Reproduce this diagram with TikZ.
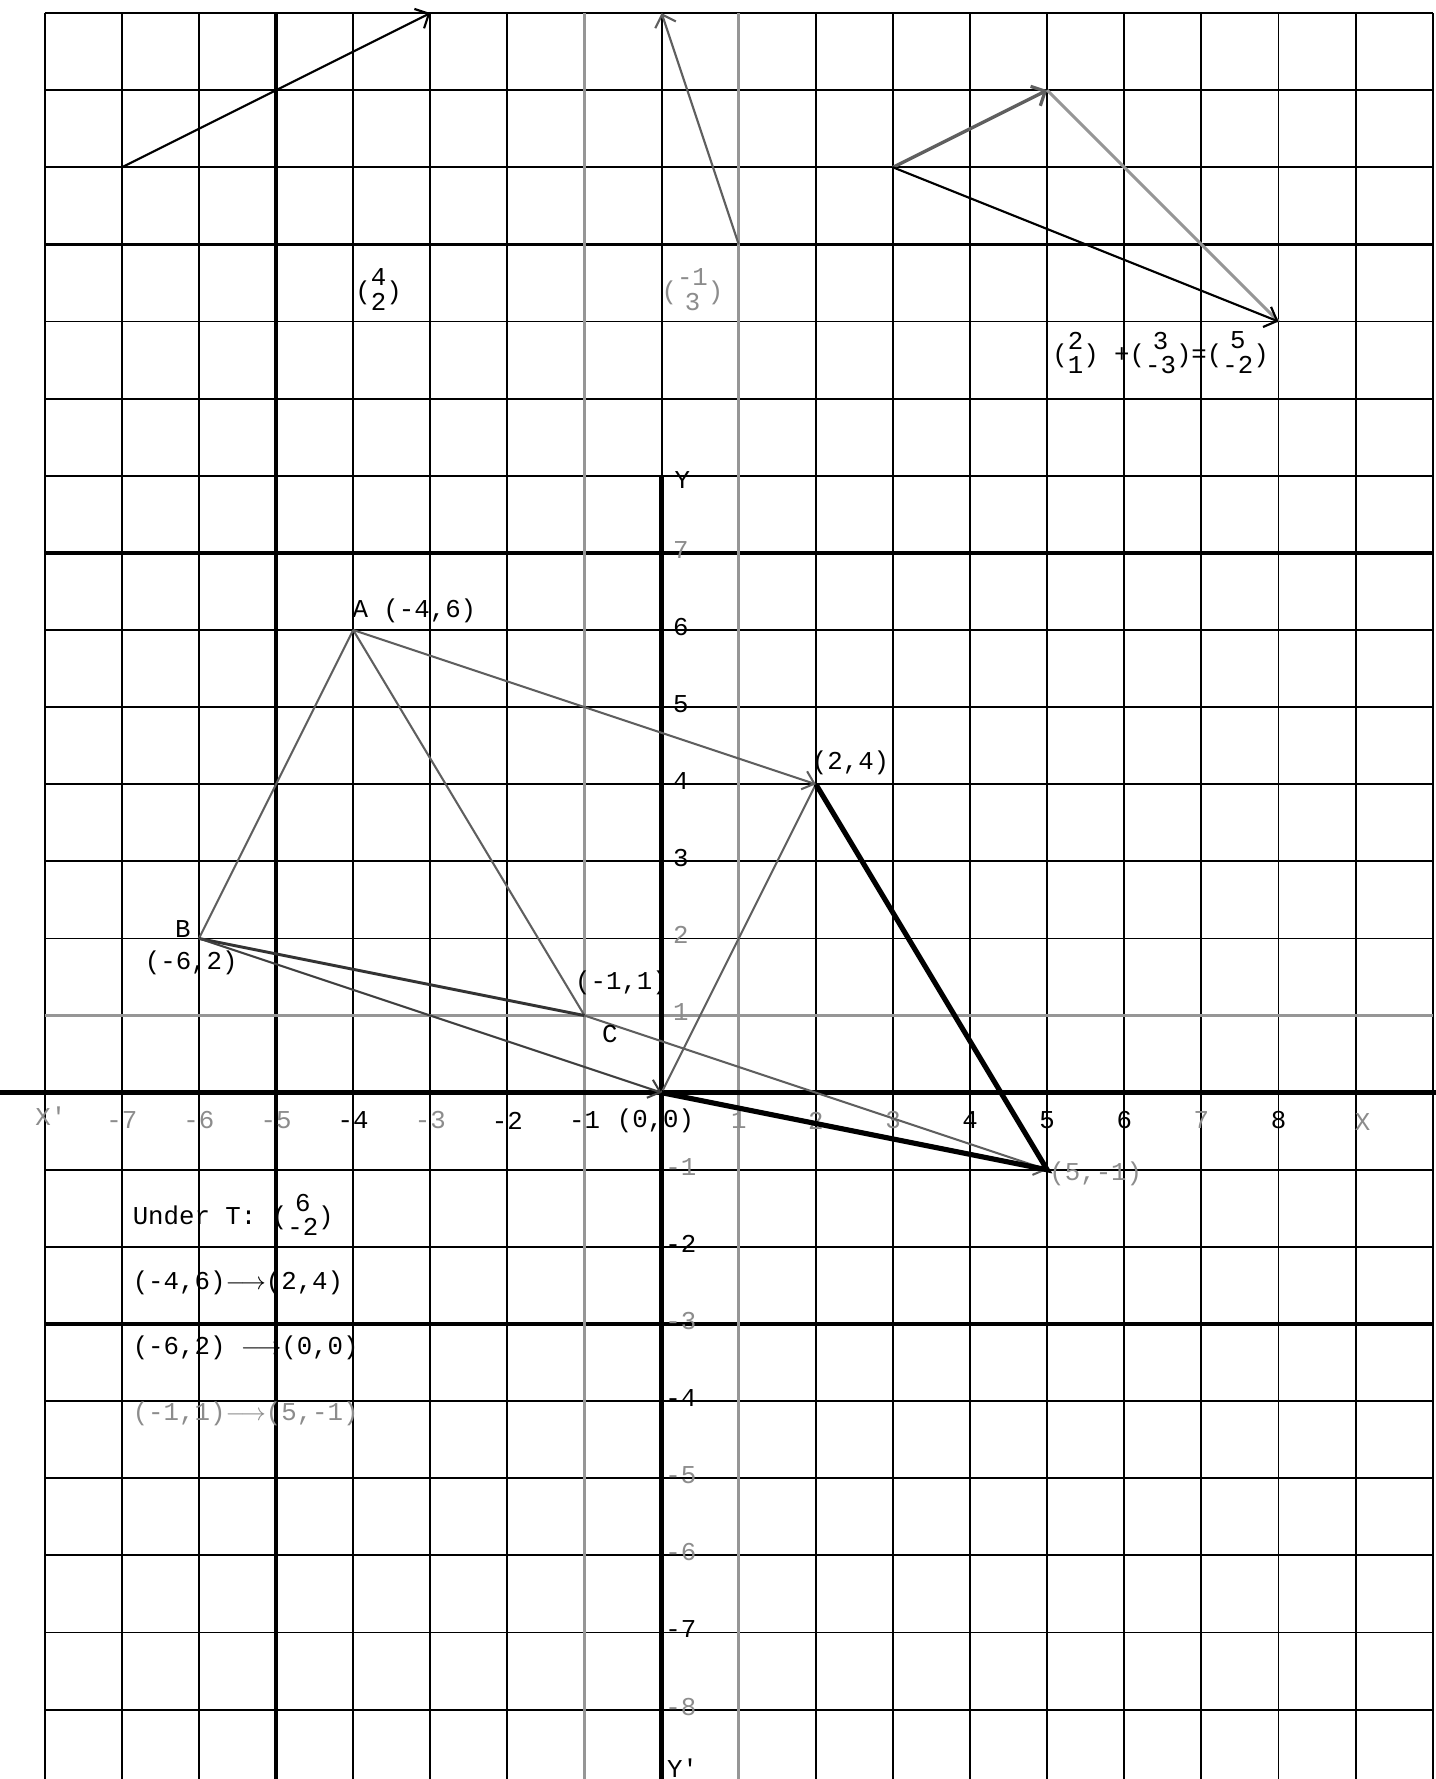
\documentclass[tikz,border=0pt]{standalone}
\usepackage{fontspec}
\newfontfamily\lettering{Liberation Mono}
\usepackage{tikz}
\usetikzlibrary{arrows.meta,positioning,calc}
\definecolor{pgray}{RGB}{140,140,140}
\definecolor{linegray}{RGB}{95,95,95}
\definecolor{fadegray}{RGB}{150,150,150}
\newcommand{\letterfont}{\lettering\fontsize{9.5}{11}\selectfont}
\newcommand{\cvec}[2]{(\begin{tabular}{@{}c@{}}#1\\#2\end{tabular})}
\renewcommand{\arraystretch}{0.8}
\tikzset{
  gridline/.style={draw=black, line width=0.7pt},
  boldgrid/.style={draw=black, line width=1.3pt},
  fadegrid/.style={draw=fadegray, line width=1.1pt},
  axisline/.style={draw=black, line width=1.9pt},
  vecline/.style={draw=#1, line width=0.8pt, -{Straight Barb[length=4pt,width=8pt]}},
  vecline/.default=black,
  shiftline/.style={draw=#1, line width=0.75pt, -{Straight Barb[length=4pt,width=7pt]}},
  shiftline/.default=linegray,
  triside/.style={draw=#1, line width=0.75pt},
  triside/.default=linegray,
  imgside/.style={draw=black, line width=1.9pt},
  lbl/.style={font=\letterfont, text=#1, inner sep=1pt},
  lbl/.default=black,
}
\begin{document}
\begin{tikzpicture}
% page
\useasboundingbox (-8.58,-8.9) rectangle (10.04,14.17);
\fill[white] (-8.58,-8.9) rectangle (10.04,14.17);
% graph paper
\foreach \x in {-8,...,10}
  \draw[gridline] (\x,-8.9) -- (\x,14);
\foreach \y in {-8,...,14}
  \draw[gridline] (-8,\y) -- (10,\y);
\draw[boldgrid] (-5,-8.9) -- (-5,14);
\foreach \y in {11,7,-3}
  \draw[boldgrid] (-8,\y) -- (10,\y);
\foreach \x in {-1,1}
  \draw[fadegrid] (\x,-8.9) -- (\x,14);
\draw[fadegrid] (-8,1) -- (10,1);
% axes
\coordinate (xl) at (-8.58,0);
\coordinate (xr) at (10.04,0);
\coordinate (yt) at (0,8);
\coordinate (yb) at (0,-8.9);
\draw[axisline] (xl) -- (xr);
\draw[axisline] (yt) -- (yb);
\foreach \x/\c in {-7/pgray,-6/pgray,-5/pgray,-4/black,-3/pgray,-2/black,-1/black,
                   1/pgray,2/pgray,3/pgray,4/black,5/black,6/black,7/pgray,8/black}
  \node[lbl=\c] (tx\x) at (\x,-0.36) {\x};
\foreach \y/\c in {7/pgray,6/black,5/black,4/black,3/black,2/pgray,1/pgray,
                   -1/pgray,-2/black,-3/pgray,-4/black,-5/pgray,-6/pgray,-7/black,-8/pgray}
  \node[lbl=\c] (ty\y) at (0.25,{\y+0.04}) {\y};
\node[lbl=pgray] (xneg) at (-7.92,-0.31) {X'};
\node[lbl=pgray] (xpos) at (9.09,-0.38) {X};
\node[lbl] (ypos) at (0.27,7.94) {Y};
\node[lbl] (yneg) at (0.27,-8.76) {Y'};
% column vectors at the top
\coordinate (u0) at (-7,12);
\coordinate (u1) at (-3,14);
\draw[vecline] (u0) -- (u1);
\node[lbl] (ulab) at (-3.67,10.37) {\cvec{4}{2}};
\coordinate (v0) at (1,11);
\coordinate (v1) at (0,14);
\draw[vecline=linegray] (v0) -- (v1);
\node[lbl=pgray] (vlab) at (0.4,10.37) {\cvec{-1}{3}};
\coordinate (w0) at (3,12);
\coordinate (w1) at (5,13);
\coordinate (w2) at (8,10);
\draw[vecline=linegray, line width=1.2pt] (w0) -- (w1);
\draw[triside=fadegray, line width=1.1pt] (w1) -- (w2);
\draw[vecline] (w0) -- (w2);
\node[lbl] (wlab) at (6.47,9.55) {\cvec{2}{1} +\cvec{3}{-3}=\cvec{5}{-2}};
% triangle ABC and its image under T
\coordinate (A) at (-4,6);
\coordinate (B) at (-6,2);
\coordinate (C) at (-1,1);
\coordinate (Ai) at (2,4);
\coordinate (Bi) at (0,0);
\coordinate (Ci) at (5,-1);
\draw[triside] (A) -- (B);
\draw[triside] (A) -- (C);
\draw[triside=black!80, line width=1.1pt] (B) -- (C);
\draw[shiftline] (A) -- (Ai);
\draw[shiftline=black!75] (B) -- (Bi);
\draw[shiftline] (C) -- (Ci);
\draw[triside] (Ai) -- (Bi);
\draw[imgside] (Ai) -- (Ci) -- (Bi);
\node[lbl, anchor=west] (labA) at (-4.05,6.25) {A (-4,6)};
\node[lbl] (labB) at (-6.21,2.12) {B};
\node[lbl] (labBc) at (-6.1,1.69) {(-6,2)};
\node[lbl] (labC) at (-0.67,0.76) {C};
\node[lbl] (labCc) at (-0.52,1.42) {(-1,1)};
\node[lbl] (labAi) at (2.45,4.28) {(2,4)};
\node[lbl] (labBi) at (-0.08,-0.36) {(0,0)};
\node[lbl=pgray] (labCi) at (5.63,-1.05) {(5,-1)};
% the mapping
\node[lbl, anchor=west] (undT) at (-6.9,-1.63) {Under T: \cvec{6}{-2}};
\node[lbl, anchor=west] (mapA) at (-6.9,-2.46) {(-4,6)$\longrightarrow$(2,4)};
\node[lbl, anchor=west] (mapB) at (-6.9,-3.31) {(-6,2) $\longrightarrow$(0,0)};
\node[lbl=pgray, anchor=west] (mapC) at (-6.9,-4.16) {(-1,1)$\longrightarrow$(5,-1)};
\end{tikzpicture}
\end{document}
